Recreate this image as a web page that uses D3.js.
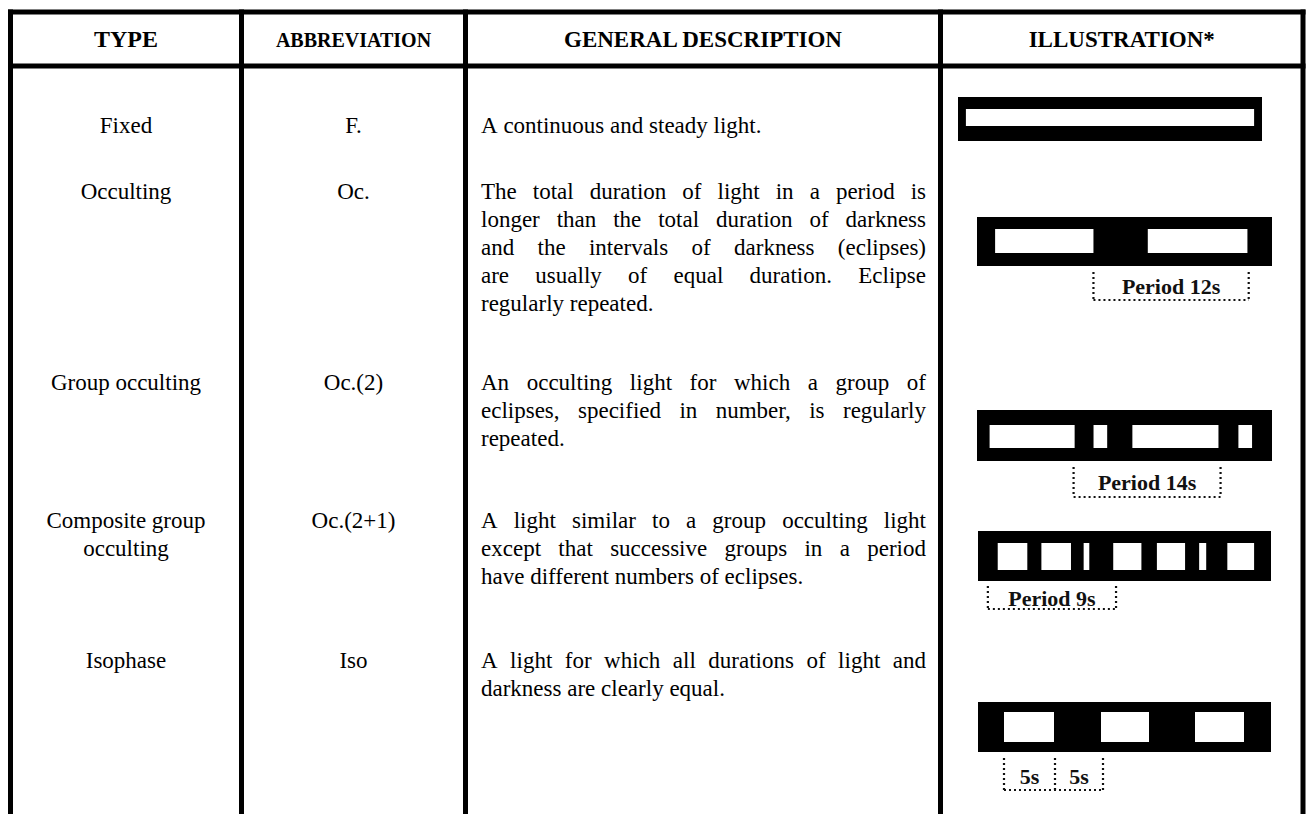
<!DOCTYPE html>
<html><head><meta charset="utf-8">
<script src="https://cdn.jsdelivr.net/npm/d3@7"></script>
<style>html,body{margin:0;padding:0;background:#fff;}svg{display:block}</style>
</head><body>
<svg id="chart" width="1309" height="814"></svg>
<script>
// ---------------- DATA ----------------
const columns = ["TYPE", "ABBREVIATION", "GENERAL DESCRIPTION", "ILLUSTRATION*"];
const types = [["Fixed"], ["Occulting"], ["Group occulting"], ["Composite group", "occulting"], ["Isophase"]];
const abbreviations = ["F.", "Oc.", "Oc.(2)", "Oc.(2+1)", "Iso"];
const descriptions = [
  ["A continuous and steady light."],
  ["The total duration of light in a period is",
   "longer than the total duration of darkness",
   "and the intervals of darkness (eclipses)",
   "are usually of equal duration. Eclipse",
   "regularly repeated."],
  ["An occulting light for which a group of",
   "eclipses, specified in number, is regularly",
   "repeated."],
  ["A light similar to a group occulting light",
   "except that successive groups in a period",
   "have different numbers of eclipses."],
  ["A light for which all durations of light and",
   "darkness are clearly equal."]
];
// illustration time span (seconds shown in each black band; fixed uses 0..1)
const bandSpans = [1, 22.8, 28.1, 20.8, 29.3];
// light (white) intervals in seconds
const lightIntervals = [
  [[0.026, 0.974]],
  [[1.4, 9.0], [13.2, 20.9]],
  [[1.2, 9.3], [11.1, 12.4], [14.8, 23.0], [24.9, 26.2]],
  [[1.4, 3.5], [4.5, 6.6], [7.5, 7.9], [9.6, 11.6], [12.7, 14.7], [15.7, 16.2], [17.7, 19.6]],
  [[2.6, 7.6], [12.3, 17.1], [21.7, 26.6]]
];
// period brackets (seconds) and their labels
const periodRanges = [[], [[9.0, 21.0]], [[9.2, 23.2]], [[0.7, 9.8]], [[2.6, 7.7], [7.7, 12.5]]];
const periodLabels = [[], ["Period 12s"], ["Period 14s"], ["Period 9s"], ["5s", "5s"]];

// ---------------- LAYOUT ----------------
const W = 1309, H = 814;
const FONT = '"Liberation Serif","Times New Roman",Times,serif';
const colEdges = [10.5, 241.5, 465.5, 940.5, 1303];
const tableTop = 12, headerBottom = 66;
const lineW = 5;
const headerSizes = [24, 20, 23, 23];
const headerBaseline = 47;
const bodySize = 23, lineGap = 28;
const rowFirstY = [125, 191, 382, 520, 660];     // centre of first text line
const descX = 481, descW = 445;
const bandLayout = [ // [x0,x1, top,bottom, lightTop, lightBottom, bracketTop, bracketBottom, labelBaseline]
  [958, 1262, 97, 141, 109, 126],
  [977, 1272, 217, 266, 229, 253, 272, 300, 294],
  [977, 1272, 410, 461, 425, 448, 467, 497, 490],
  [978, 1271, 531, 581, 543, 570, 586, 609, 606],
  [978, 1271, 702, 752, 712, 742, 758, 790, 784]
];

const svg = d3.select("#chart");
svg.append("rect").attr("width", W).attr("height", H).attr("fill", "#fff");

const colIndex = d3.range(columns.length);
const colCenter = d3.scaleOrdinal().domain(colIndex)
  .range(colIndex.map(i => (colEdges[i] + colEdges[i + 1]) / 2));

// grid lines
const grid = svg.append("g").attr("stroke", "#000").attr("stroke-width", lineW);
grid.selectAll("line.v").data(colEdges).join("line")
  .attr("x1", d => d).attr("x2", d => d)
  .attr("y1", tableTop - lineW / 2).attr("y2", H);
grid.selectAll("line.h").data([tableTop, headerBottom]).join("line")
  .attr("x1", colEdges[0] - lineW / 2).attr("x2", colEdges[colEdges.length - 1] + lineW / 2)
  .attr("y1", d => d).attr("y2", d => d);

// header
svg.append("g").selectAll("text").data(columns).join("text")
  .attr("x", (d, i) => colCenter(i)).attr("y", headerBaseline)
  .attr("text-anchor", "middle").attr("font-family", FONT).attr("font-weight", "bold")
  .attr("font-size", (d, i) => headerSizes[i]).attr("fill", "#000").text(d => d);

const body = svg.append("g").attr("font-family", FONT).attr("font-size", bodySize).attr("fill", "#000");
const base = y => y + bodySize * 0.34;

// type column
types.forEach((lines, r) => {
  lines.forEach((t, k) => {
    body.append("text").attr("x", colCenter(0)).attr("y", base(rowFirstY[r] + k * lineGap))
      .attr("text-anchor", "middle").text(t);
  });
});
// abbreviation column
abbreviations.forEach((t, r) => {
  body.append("text").attr("x", colCenter(1)).attr("y", base(rowFirstY[r]))
    .attr("text-anchor", "middle").text(t);
});

// description column (justified)
function measure(word) {
  const n = body.append("text").text(word);
  const l = n.node().getComputedTextLength();
  n.remove();
  return l;
}
descriptions.forEach((lines, r) => {
  lines.forEach((line, k) => {
    const words = line.split(" ");
    const lens = words.map(measure);
    const justify = k < lines.length - 1 && words.length > 1;
    const space = justify ? (descW - d3.sum(lens)) / (words.length - 1) : bodySize * 0.25;
    let cx = descX;
    const xs = lens.map(l => { const v = cx; cx += l + space; return v; });
    const t = body.append("text").attr("y", base(rowFirstY[r] + k * lineGap));
    t.selectAll("tspan").data(words).join("tspan").attr("x", (d, i) => xs[i]).text(d => d);
  });
});

// illustrations
const ill = svg.append("g");
bandSpans.forEach((span, r) => {
  const L = bandLayout[r];
  const x = d3.scaleLinear().domain([0, span]).range([L[0], L[1]]);
  const g = ill.append("g");
  g.append("rect").attr("x", x(0)).attr("y", L[2]).attr("width", x(span) - x(0)).attr("height", L[3] - L[2]).attr("fill", "#000");
  g.selectAll("rect.light").data(lightIntervals[r]).join("rect").attr("class", "light")
    .attr("x", d => x(d[0])).attr("width", d => x(d[1]) - x(d[0]))
    .attr("y", L[4]).attr("height", L[5] - L[4]).attr("fill", "#fff");
  const pr = periodRanges[r];
  if (pr.length) {
    const dots = g.append("g").attr("stroke", "#111").attr("stroke-width", 2.2)
      .attr("stroke-dasharray", "2,3").attr("fill", "none");
    const edges = Array.from(new Set(pr.flat()));
    dots.selectAll("line.v").data(edges).join("line")
      .attr("x1", d => x(d)).attr("x2", d => x(d)).attr("y1", L[6]).attr("y2", L[7]);
    dots.append("line").attr("x1", x(d3.min(edges))).attr("x2", x(d3.max(edges)))
      .attr("y1", L[7]).attr("y2", L[7]);
    g.selectAll("text").data(pr).join("text")
      .attr("x", d => x((d[0] + d[1]) / 2)).attr("y", L[8])
      .attr("text-anchor", "middle").attr("font-family", FONT).attr("font-weight", "bold")
      .attr("font-size", 22).attr("fill", "#111").text((d, i) => periodLabels[r][i]);
  }
});
</script>
</body></html>
